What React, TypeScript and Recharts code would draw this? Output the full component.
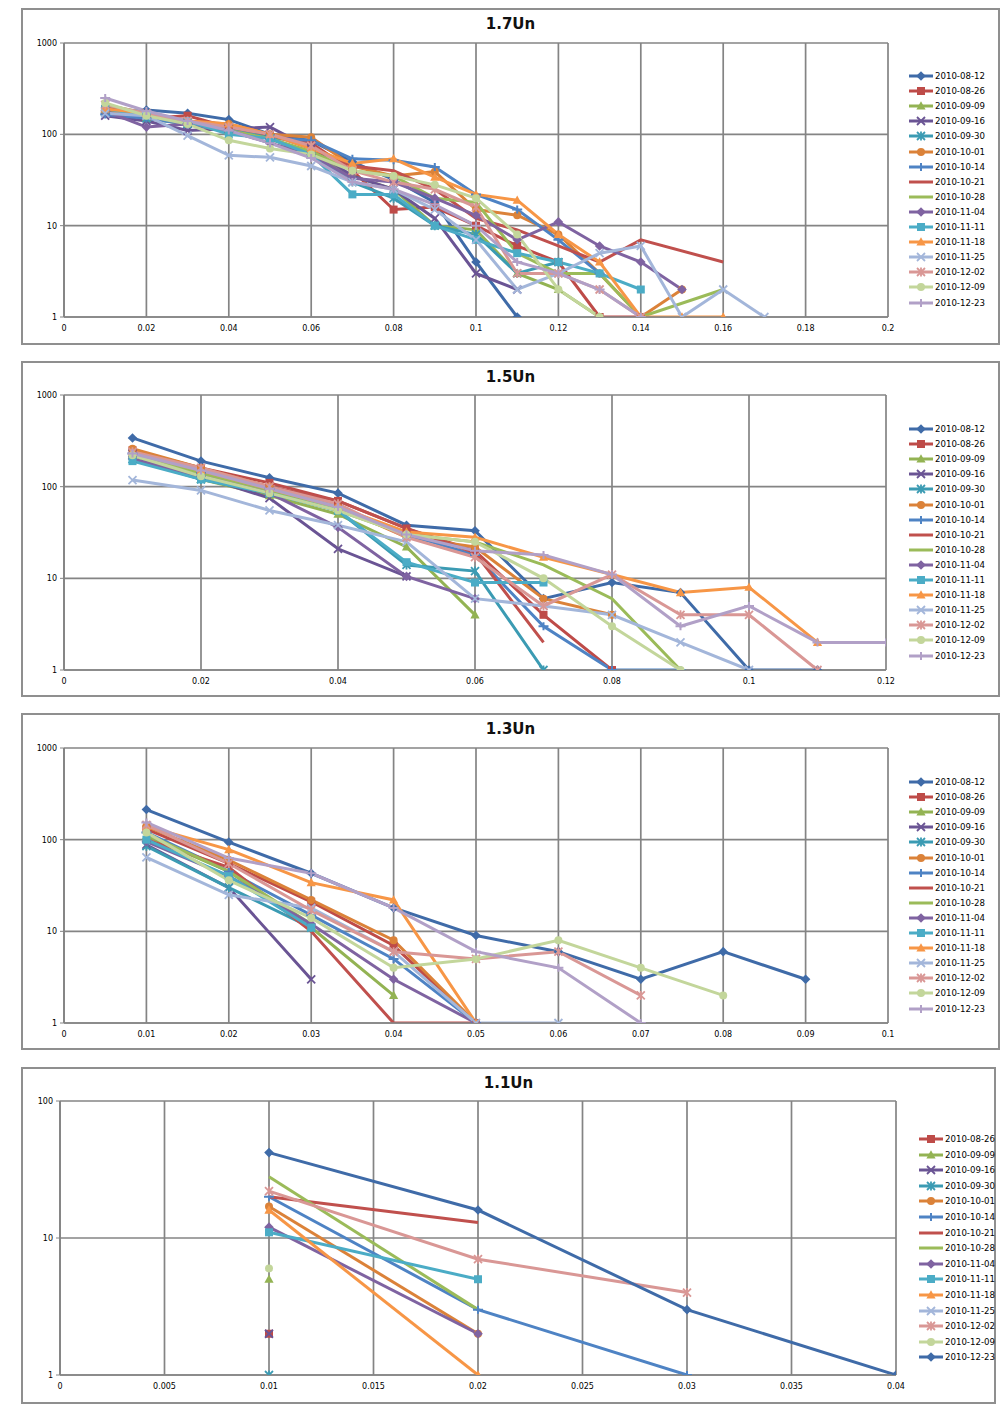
import { LineChart, Line, XAxis, YAxis, CartesianGrid } from "recharts";

// series names (panel 1-3 use all 16, panel 4 starts at 08-26)
const dates = [
  "2010-08-12", "2010-08-26", "2010-09-09", "2010-09-16", "2010-09-30", "2010-10-01",
  "2010-10-14", "2010-10-21", "2010-10-28", "2010-11-04", "2010-11-11", "2010-11-18",
  "2010-11-25", "2010-12-02", "2010-12-09", "2010-12-23",
];
const p4Dates = dates.slice(1);

type V = number | null;

// 1.7Un
const p1X = [0.01, 0.02, 0.03, 0.04, 0.05, 0.06, 0.07, 0.08, 0.09, 0.1, 0.11, 0.12, 0.13, 0.14, 0.15, 0.16, 0.17];
const p1Values: V[][] = [
  [170, 185, 170, 145, 100, 85, 50, 32, 18, 4, 1],
  [190, 150, 160, 120, 95, 80, 40, 15, 16, 10, 6, 4, 1, 1],
  [200, 150, 130, 110, 90, 60, 35, 25, 10, 9, 3, 2, 1],
  [160, 140, 110, 115, 120, 70, 35, 25, 12, 3, 2],
  [180, 150, 130, 120, 90, 60, 30, 20, 10, 8, 3, 4],
  [180, 160, 140, 130, 100, 93, 45, 35, 39, 15, 13, 8, 3, 1, 2],
  [165, 150, 130, 110, 90, 86, 54, 52, 44, 22, 15, 7, 3],
  [200, 170, 140, 120, 100, 70, 45, 40, 25, 12, 9, 6, 4, 7, null, 4],
  [210, 170, 140, 110, 90, 65, 40, 35, 20, 18, 5, 3, 3, 1, null, 2],
  [180, 120, 130, 110, 80, 60, 33, 30, 20, 13, 7, 11, 6, 4, 2],
  [190, 160, 140, 100, 90, 60, 22, 22, 10, 7, 5, 4, 3, 2],
  [190, 170, 140, 130, 100, 70, 48, 54, 34, 22, 19, 8, 4, 1, 1, 1],
  [170, 160, 97, 59, 56, 45, 30, 25, 15, 7, 2, 3, 5, 6, 1, 2, 1],
  [210, 170, 140, 120, 100, 75, 40, 30, 25, 16, 3, 3, 2, 1],
  [220, 160, 130, 86, 70, 60, 40, 35, 28, 20, 8, 2, 1],
  [250, 180, 140, 110, 80, 55, 30, 25, 17, 10, 4, 3, 2, 1],
];

// 1.5Un
const p2X = [0.01, 0.02, 0.03, 0.04, 0.05, 0.06, 0.07, 0.08, 0.09, 0.1, 0.11, 0.12];
const p2Values: V[][] = [
  [340, 190, 125, 85, 38, 33, 6, 9, 7, 1, 1],
  [250, 160, 110, 70, 35, 20, 4, 1],
  [220, 120, 80, 50, 22, 4],
  [230, 130, 75, 21, 10.5],
  [200, 120, 85, 55, 14, 12, 1],
  [260, 160, 100, 60, 28, 22, 6, 4],
  [230, 140, 95, 60, 30, 18, 3, 1, 1],
  [230, 150, 100, 70, 35, 19, 2],
  [230, 140, 90, 55, 30, 25, 14, 6, 1],
  [200, 130, 85, 36, 10.5, 6],
  [190, 120, 85, 55, 15, 9, 9],
  [240, 150, 95, 60, 32, 28, 17, 11, 7, 8, 2],
  [118, 91, 55, 38, 25, 6, 5, 4, 2, 1],
  [240, 160, 100, 65, 28, 17, 5, 11, 4, 4, 1],
  [220, 130, 85, 55, 30, 25, 10, 3, 1],
  [230, 150, 95, 60, 30, 20, 18, 11, 3, 5, 2, 2],
];

// 1.3Un
const p3X = [0.01, 0.02, 0.03, 0.04, 0.05, 0.06, 0.07, 0.08, 0.09];
const p3Values: V[][] = [
  [213, 94, 43, 18, 9, 6, 3, 6, 3],
  [130, 55, 21, 7, 1],
  [110, 45, 11, 2],
  [88, 30, 3],
  [85, 30, 11],
  [140, 60, 22, 8, 1],
  [120, 45, 15, 5, 1],
  [100, 50, 10, 1, 1],
  [115, 45, 12],
  [95, 40, 12, 3, 1],
  [100, 40, 11],
  [140, 78, 34, 22, 1],
  [64, 25, 18, 6, 1, 1],
  [145, 55, 17, 6, 5, 6, 2],
  [120, 36, 14, 4, 5, 8, 4, 2],
  [154, 63, 43, 18, 6, 4, 1],
];

// 1.1Un
const p4X = [0.01, 0.02, 0.03, 0.04];
const p4Values: V[][] = [
  [2],
  [5],
  [2],
  [1],
  [17, 2],
  [20, 3, 1],
  [20, 13],
  [28, 3],
  [12, 2],
  [11, 5],
  [16, 1],
  [],
  [22, 7, 4],
  [6],
  [42, 16, 3, 1],
];

const p1Ticks = [0, 0.02, 0.04, 0.06, 0.08, 0.1, 0.12, 0.14, 0.16, 0.18, 0.2];
const p2Ticks = [0, 0.02, 0.04, 0.06, 0.08, 0.1, 0.12];
const p3Ticks = [0, 0.01, 0.02, 0.03, 0.04, 0.05, 0.06, 0.07, 0.08, 0.09, 0.1];
const p4Ticks = [0, 0.005, 0.01, 0.015, 0.02, 0.025, 0.03, 0.035, 0.04];

type Style = { color: string; shape: string };
const styles: Style[] = [
  { color: "#3F6BA8", shape: "diamond" },
  { color: "#BE4B48", shape: "square" },
  { color: "#93B353", shape: "triangle" },
  { color: "#6A5494", shape: "x" },
  { color: "#3B9BB3", shape: "star" },
  { color: "#DB8239", shape: "circle" },
  { color: "#4E83C4", shape: "plus" },
  { color: "#C0504D", shape: "none" },
  { color: "#9BBB59", shape: "none" },
  { color: "#7F63A1", shape: "diamond" },
  { color: "#4BACC6", shape: "square" },
  { color: "#F79646", shape: "triangle" },
  { color: "#A3B6DA", shape: "x" },
  { color: "#D99795", shape: "star" },
  { color: "#C3D69B", shape: "circle" },
  { color: "#B1A0C7", shape: "plus" },
];
const p4Styles: Style[] = [...styles.slice(1, 15), { color: "#3F6BA8", shape: "diamond" }];

const FONT = "'DejaVu Sans', Verdana, sans-serif";
const GRID = "#848484";

function Marker({ cx, cy, shape, color }: { cx: number; cy: number; shape: string; color: string }) {
  const s = 4;
  switch (shape) {
    case "diamond":
      return <path d={`M${cx},${cy - 4.8}L${cx + 4.8},${cy}L${cx},${cy + 4.8}L${cx - 4.8},${cy}Z`} fill={color} />;
    case "square":
      return <rect x={cx - s} y={cy - s} width={2 * s} height={2 * s} fill={color} />;
    case "triangle":
      return <path d={`M${cx},${cy - 4.8}L${cx + 4.6},${cy + 3.6}L${cx - 4.6},${cy + 3.6}Z`} fill={color} />;
    case "x":
      return (
        <path d={`M${cx - s},${cy - s}L${cx + s},${cy + s}M${cx + s},${cy - s}L${cx - s},${cy + s}`} stroke={color} strokeWidth={1.8} />
      );
    case "star":
      return (
        <path
          d={`M${cx - s},${cy - s}L${cx + s},${cy + s}M${cx + s},${cy - s}L${cx - s},${cy + s}M${cx},${cy - s - 0.5}L${cx},${cy + s + 0.5}`}
          stroke={color}
          strokeWidth={1.8}
        />
      );
    case "circle":
      return <circle cx={cx} cy={cy} r={s} fill={color} />;
    case "plus":
      return <path d={`M${cx - s - 1},${cy}L${cx + s + 1},${cy}M${cx},${cy - s}L${cx},${cy + s}`} stroke={color} strokeWidth={2} />;
    default:
      return null;
  }
}

const fmt = (v: number) => String(Math.round(v * 1000) / 1000);

type PanelProps = {
  title: string;
  top: number;
  height: number;
  right: number;
  plotLeft: number;
  plotRight: number;
  plotTop: number;
  plotBottom: number;
  xs: number[];
  values: V[][];
  names: string[];
  seriesStyles: Style[];
  xTicks: number[];
  yTicks: number[];
  legendTop: number;
  legendStep: number;
  legendLeft: number;
};

function Panel(p: PanelProps) {
  const chartW = 920;
  const chartH = p.height;
  const yW = 40;
  const xH = 20;
  const margin = {
    left: p.plotLeft - yW,
    right: chartW - p.plotRight,
    top: p.plotTop - p.top,
    bottom: chartH - (p.plotBottom - p.top) - xH,
  };
  const yMax = p.yTicks[p.yTicks.length - 1];
  return (
    <>
      <div
        style={{
          position: "absolute",
          left: 21,
          top: p.top,
          width: p.right - 21,
          height: p.height,
          border: "2px solid #8f8f8f",
          boxSizing: "border-box",
        }}
      />
      <div
        style={{
          position: "absolute",
          left: 21,
          width: p.right - 21,
          top: p.top + 7,
          textAlign: "center",
          font: `bold 15px ${FONT}`,
          color: "#111",
        }}
      >
        {p.title}
      </div>
      <div style={{ position: "absolute", left: 0, top: p.top }}>
        <LineChart width={chartW} height={chartH} margin={margin}>
          <CartesianGrid stroke={GRID} strokeWidth={1.7} />
          <XAxis
            dataKey="x"
            type="number"
            domain={[p.xTicks[0], p.xTicks[p.xTicks.length - 1]]}
            ticks={p.xTicks}
            interval={0}
            height={xH}
            allowDataOverflow
            tickFormatter={fmt}
            tickLine={false}
            axisLine={{ stroke: GRID, strokeWidth: 1.7 }}
            tick={{ fontSize: 8, fill: "#000", fontFamily: FONT }}
          />
          <YAxis
            type="number"
            scale="log"
            domain={[1, yMax]}
            ticks={p.yTicks}
            interval={0}
            width={yW}
            allowDataOverflow
            tickSize={4}
            tickMargin={3}
            tickLine={{ stroke: GRID }}
            axisLine={{ stroke: GRID, strokeWidth: 1.7 }}
            tick={{ fontSize: 8, fill: "#000", fontFamily: FONT }}
          />
          {p.values.map((vals, si) => {
            const st = p.seriesStyles[si];
            const pts = p.xs
              .map((x, i) => ({ x, y: vals[i] }))
              .filter((d) => d.y !== null && d.y !== undefined);
            return (
              <Line
                key={p.names[si]}
                data={pts}
                dataKey="y"
                stroke={st.color}
                strokeWidth={3}
                isAnimationActive={false}
                activeDot={false}
                dot={(d: any) => (
                  <g key={`${si}-${d.index}`}>
                    <Marker cx={d.cx} cy={d.cy} shape={st.shape} color={st.color} />
                  </g>
                )}
              />
            );
          })}
        </LineChart>
      </div>
      {p.names.map((n, i) => {
        const st = p.seriesStyles[i];
        return (
          <div
            key={n}
            style={{
              position: "absolute",
              left: p.legendLeft,
              top: p.legendTop + i * p.legendStep - 6,
              height: 12,
              display: "flex",
              alignItems: "center",
              font: `8.6px ${FONT}`,
              color: "#000",
              whiteSpace: "nowrap",
            }}
          >
            <svg width={24} height={12} style={{ marginRight: 2 }}>
              <line x1={0} y1={6} x2={24} y2={6} stroke={st.color} strokeWidth={3} />
              <Marker cx={12} cy={6} shape={st.shape} color={st.color} />
            </svg>
            {n}
          </div>
        );
      })}
    </>
  );
}

export default function App() {
  return (
    <div style={{ position: "absolute", left: 0, top: 0, width: 1007, height: 1411, background: "#fff" }}>
      <Panel
        title="1.7Un"
        top={8}
        height={337}
        right={1000}
        plotLeft={64}
        plotRight={888}
        plotTop={43}
        plotBottom={317}
        xs={p1X}
        values={p1Values}
        names={dates}
        seriesStyles={styles}
        xTicks={p1Ticks}
        yTicks={[1, 10, 100, 1000]}
        legendTop={76}
        legendStep={15.1}
        legendLeft={909}
      />
      <Panel
        title="1.5Un"
        top={361}
        height={336}
        right={1000}
        plotLeft={64}
        plotRight={886}
        plotTop={395}
        plotBottom={670}
        xs={p2X}
        values={p2Values}
        names={dates}
        seriesStyles={styles}
        xTicks={p2Ticks}
        yTicks={[1, 10, 100, 1000]}
        legendTop={429}
        legendStep={15.1}
        legendLeft={909}
      />
      <Panel
        title="1.3Un"
        top={713}
        height={337}
        right={1000}
        plotLeft={64}
        plotRight={888}
        plotTop={748}
        plotBottom={1023}
        xs={p3X}
        values={p3Values}
        names={dates}
        seriesStyles={styles}
        xTicks={p3Ticks}
        yTicks={[1, 10, 100, 1000]}
        legendTop={782}
        legendStep={15.1}
        legendLeft={909}
      />
      <Panel
        title="1.1Un"
        top={1067}
        height={337}
        right={996}
        plotLeft={60}
        plotRight={896}
        plotTop={1101}
        plotBottom={1375}
        xs={p4X}
        values={p4Values}
        names={p4Dates}
        seriesStyles={p4Styles}
        xTicks={p4Ticks}
        yTicks={[1, 10, 100]}
        legendTop={1139}
        legendStep={15.6}
        legendLeft={919}
      />
    </div>
  );
}
